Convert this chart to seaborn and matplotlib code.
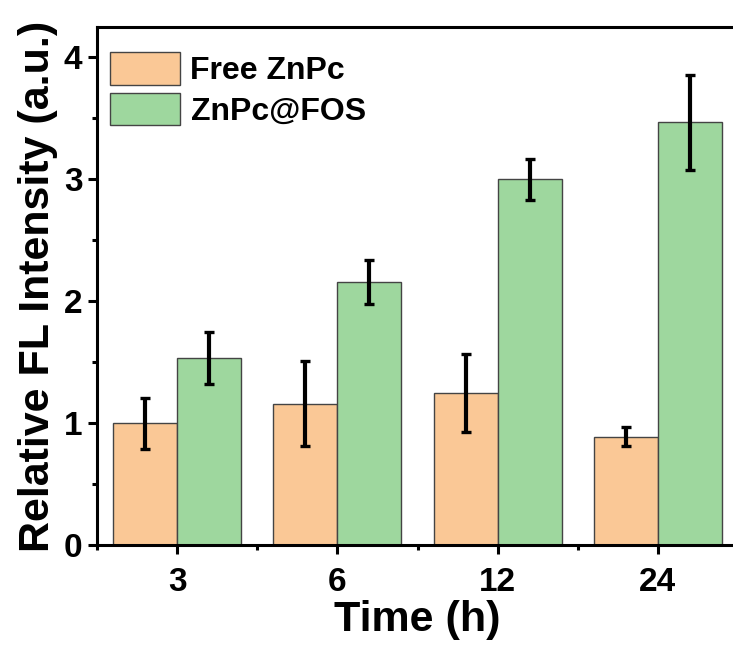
import matplotlib
matplotlib.use("Agg")
import matplotlib.pyplot as plt
import seaborn as sns
import pandas as pd
import numpy as np
from matplotlib.ticker import MultipleLocator, FixedLocator

times = ["3", "6", "12", "24"]
groups = ["Free ZnPc", "ZnPc@FOS"]
free_vals = [1.00, 1.16, 1.25, 0.89]
free_err = [0.21, 0.35, 0.32, 0.075]
fos_vals = [1.535, 2.16, 3.00, 3.47]
fos_err = [0.21, 0.18, 0.17, 0.39]
colors = ["#FAC896", "#9ED79E"]

df = pd.DataFrame({
    "Time": times * 2,
    "Group": [groups[0]] * 4 + [groups[1]] * 4,
    "Value": free_vals + fos_vals,
})

sns.set_theme(style="ticks")
plt.rcParams["font.family"] = ["Liberation Sans", "DejaVu Sans"]
plt.rcParams["font.weight"] = "bold"
for k in ["text.color", "axes.labelcolor", "xtick.color", "ytick.color",
          "axes.edgecolor"]:
    plt.rcParams[k] = "black"

fig = plt.figure(figsize=(7.33, 6.51), dpi=100)
ax = fig.add_axes([97 / 733, 106 / 651, 641 / 733, 518 / 651])

sns.barplot(data=df, x="Time", y="Value", hue="Group", order=times,
            hue_order=groups, palette=colors, width=0.8, ax=ax,
            edgecolor="#444444", linewidth=1.0, errorbar=None, saturation=1)

errs = free_err + fos_err
vals = free_vals + fos_vals
bars = [p for p in ax.patches if p.get_height() > 0][:8]
for bar, v, e in zip(bars, vals, errs):
    ax.errorbar(bar.get_x() + bar.get_width() / 2, v, yerr=e, fmt="none",
                ecolor="black", elinewidth=3.0, capsize=3.8, capthick=2.4,
                zorder=5)

ax.set_xlim(-0.5, 3.5)
ax.set_ylim(0, 4.25)
ax.yaxis.set_major_locator(MultipleLocator(1))
ax.yaxis.set_minor_locator(MultipleLocator(0.5))
ax.xaxis.set_minor_locator(FixedLocator([-0.5, 0.5, 1.5, 2.5, 3.5]))

for s in ["left", "bottom", "top"]:
    ax.spines[s].set_linewidth(2.2)
    ax.spines[s].set_color("black")
ax.spines["right"].set_visible(False)

ax.tick_params(axis="both", which="major", direction="out", length=6.5,
               width=2.2, labelsize=24, color="black", labelcolor="black",
               pad=4)
ax.tick_params(axis="both", which="minor", direction="out", length=3.5,
               width=2.2, color="black")
ax.tick_params(axis="x", which="major", pad=9)
for lab in ax.get_xticklabels() + ax.get_yticklabels():
    lab.set_fontweight("bold")

ax.set_xlabel("Time (h)", fontsize=31, fontweight="bold", labelpad=2,
              color="black")
ax.set_ylabel("Relative FL Intensity (a.u.)", fontsize=31, fontweight="bold",
              labelpad=4, color="black")

leg = ax.legend(loc="upper left", bbox_to_anchor=(13 / 641, 1 - 25 / 518),
                frameon=False, prop={"size": 23, "weight": "bold"},
                handlelength=2.2, handleheight=1.2, labelspacing=0.2,
                handletextpad=0.32, borderaxespad=0.0, borderpad=0.0)
for h in leg.legend_handles:
    h.set_edgecolor("#444444")
    h.set_linewidth(1.0)
for t in leg.get_texts():
    t.set_color("black")

fig.savefig("out.png", dpi=100)
